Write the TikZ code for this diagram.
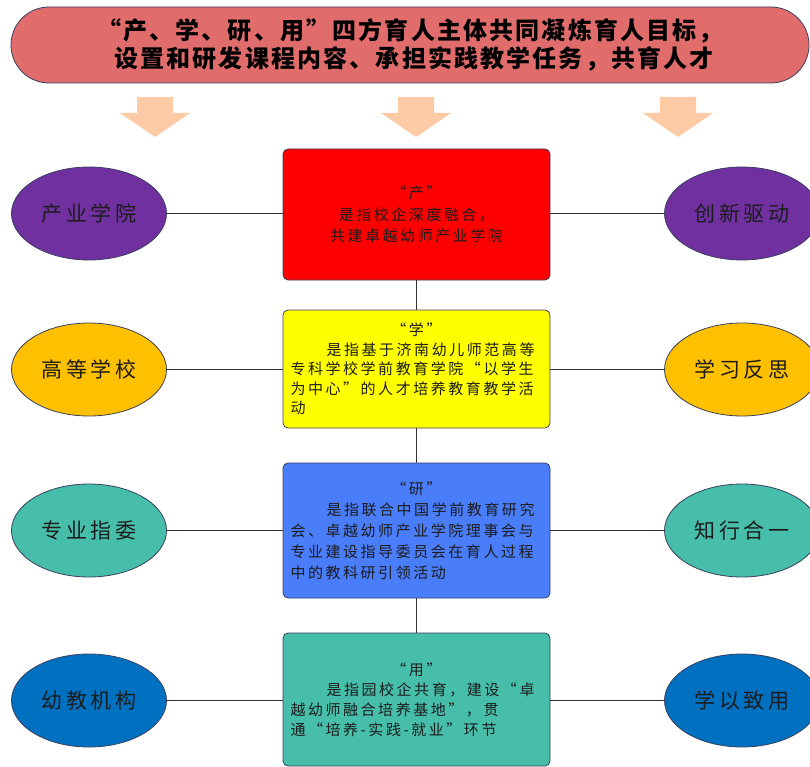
\documentclass[tikz,border=0pt]{standalone}
\usepackage{fontspec}
\usetikzlibrary{shapes.geometric}
\newfontfamily\cjkbox{Noto Sans CJK SC}[LetterSpace=17]
\newfontfamily\cjkell{Noto Sans CJK SC}[LetterSpace=17]
\newfontfamily\cjkban{Noto Sans CJK SC}[LetterSpace=9]
\definecolor{banfill}{HTML}{E06C6C}
\definecolor{arrowc}{HTML}{FCCBA5}
\definecolor{edgec}{HTML}{3A4060}
\definecolor{purp}{HTML}{7030A0}
\definecolor{gold}{HTML}{FFC000}
\definecolor{tealc}{HTML}{46BEAA}
\definecolor{bluec}{HTML}{0070C0}
\definecolor{redbox}{HTML}{FF0000}
\definecolor{yelbox}{HTML}{FFFF00}
\definecolor{bluebox}{HTML}{4A7DFA}
\definecolor{txtc}{HTML}{1C1C1C}
\tikzset{
  banner/.style={draw=edgec, line width=0.8pt, fill=banfill, rectangle, rounded corners=38pt,
    minimum width=798pt, minimum height=76pt, align=center, text=black,
    font=\cjkban\bfseries\fontsize{24}{28}\selectfont},
  fatarrow/.style={fill=arrowc},
  mainbox/.style={draw=edgec, line width=0.8pt, rectangle, rounded corners=5pt,
    minimum width=267pt, text width=252pt, text=txtc},
  oval/.style={draw=edgec, line width=0.8pt, ellipse, minimum width=155pt, minimum height=93pt,
    inner sep=0pt, text=txtc, font=\cjkell\fontsize{21}{24}\selectfont},
  link/.style={draw=black!80, line width=0.8pt}
}
\begin{document}
\begin{tikzpicture}[x=1pt,y=-1pt]
\useasboundingbox (0,0) rectangle (810,767);
\node[banner] (top) at (410,45) {“产、学、研、用”四方育人主体共同凝炼育人目标，\\\hspace*{8pt}设置和研发课程内容、承担实践教学任务，共育人才};
\foreach \cx in {155,416,678}{
  \fill[fatarrow] (\cx-18,97) -- (\cx+18,97) -- (\cx+18,113) -- (\cx+35,113) -- (\cx,137) -- (\cx-35,113) -- (\cx-18,113) -- cycle;
}
\node[mainbox, fill=redbox, minimum height=131pt, align=center,
  font=\cjkbox\fontsize{15}{21.5}\selectfont] (b1) at (416.5,214.5)
  {“产”\\是指校企深度融合，\\共建卓越幼师产业学院};
\node[mainbox, fill=yelbox, minimum height=118pt, align=left,
  font=\cjkbox\fontsize{15}{19.5}\selectfont] (b2) at (416.5,369)
  {\makebox[\hsize]{“学”}\\\hspace*{36pt}是指基于济南幼儿师范高等\\专科学校学前教育学院“以学生\\为中心”的人才培养教育教学活\\动};
\node[mainbox, fill=bluebox, minimum height=135pt, align=left,
  font=\cjkbox\fontsize{15}{21}\selectfont] (b3) at (416.5,530.5)
  {\makebox[\hsize]{“研”}\\\hspace*{36pt}是指联合中国学前教育研究\\会、卓越幼师产业学院理事会与\\专业建设指导委员会在育人过程\\中的教科研引领活动};
\node[mainbox, fill=tealc, minimum height=133pt, align=left,
  font=\cjkbox\fontsize{15}{20}\selectfont] (b4) at (416.5,699.5)
  {\makebox[\hsize]{“用”}\\\hspace*{36pt}是指园校企共育，建设“卓\\越幼师融合培养基地”，贯\\通“培养-实践-就业”环节};
\node[oval, fill=purp] (l1) at (89,213.5) {产业学院};
\node[oval, fill=gold] (l2) at (89,369.5) {高等学校};
\node[oval, fill=tealc] (l3) at (89,530.5) {专业指委};
\node[oval, fill=bluec] (l4) at (89,700.5) {幼教机构};
\node[oval, fill=purp] (r1) at (742,213.5) {创新驱动};
\node[oval, fill=gold] (r2) at (742,369.5) {学习反思};
\node[oval, fill=tealc] (r3) at (742,530.5) {知行合一};
\node[oval, fill=bluec] (r4) at (742,700.5) {学以致用};
\foreach \i in {1,2,3,4}{
  \draw[link] (l\i.east) -- (l\i.east -| b\i.west);
  \draw[link] (r\i.west -| b\i.east) -- (r\i.west);
}
\draw[link] (b1.south) -- (b2.north);
\draw[link] (b2.south) -- (b3.north);
\draw[link] (b3.south) -- (b4.north);
\end{tikzpicture}
\end{document}
